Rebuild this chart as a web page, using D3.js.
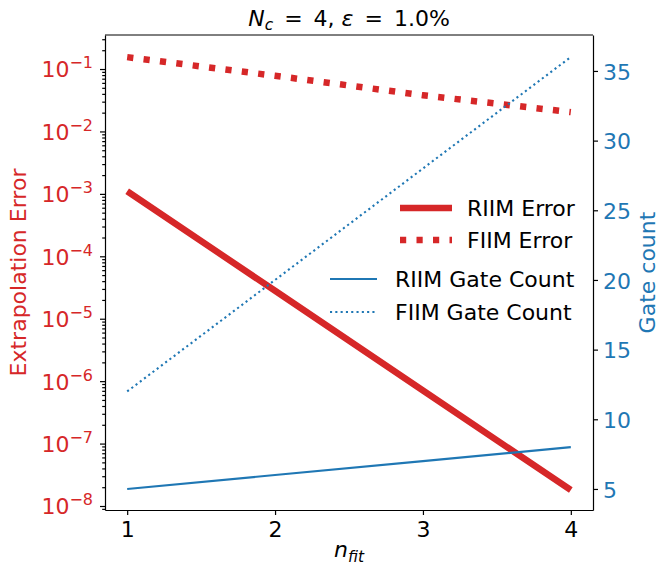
<!DOCTYPE html>
<html>
<head>
<meta charset="utf-8">
<script src="https://cdn.jsdelivr.net/npm/d3@7"></script>
<style>
  body { margin: 0; background: #fff; }
  svg text { font-family: "DejaVu Sans", sans-serif; }
</style>
</head>
<body>
<div id="chart"></div>
<script>
// values
const nFit = [1, 2, 3, 4];
const riimError = [1.1e-3, 2.8e-5, 7.1e-7, 1.8e-8];
const fiimError = [0.155, 0.078, 0.038, 0.0204];
const riimGates = [5, 6, 7, 8];
const fiimGates = [12, 20, 28, 36];

const xTicks = [1, 2, 3, 4];
const errTicks = [-8, -7, -6, -5, -4, -3, -2, -1];
const gateTicks = [5, 10, 15, 20, 25, 30, 35];

const red = "#d62728";
const blue = "#1f77b4";
const W = 659, H = 574;
const margin = {top: 35, right: 66, bottom: 64, left: 105};
const width = W - margin.left - margin.right;
const height = H - margin.top - margin.bottom;

const svg = d3.select("#chart").append("svg")
    .attr("width", W)
    .attr("height", H);

const g = svg.append("g")
    .attr("transform", `translate(${margin.left},${margin.top})`);

// scales (matplotlib style 5% padding)
const x = d3.scaleLinear().domain([0.85, 4.15]).range([0, width]);
const yErr = d3.scaleLog().domain([Math.pow(10, -8.064), Math.pow(10, -0.455)]).range([height, 0]);
const yGate = d3.scaleLinear().domain([3.49, 37.58]).range([height, 0]);

// minor ticks for the log axis
let minor = [];
for (let k = -9; k <= 0; k++) {
    for (let m = 2; m <= 9; m++) {
        const v = m * Math.pow(10, k);
        if (v >= yErr.domain()[0] && v <= yErr.domain()[1]) minor.push(v);
    }
}

/* red series on the left axis */
const lineErr = d3.line().x((d, i) => x(nFit[i])).y(d => yErr(d));

g.append("path")
    .datum(riimError)
    .attr("fill", "none")
    .attr("stroke", red)
    .attr("stroke-width", 6.5)
    .attr("d", lineErr);

g.append("path")
    .datum(fiimError)
    .attr("fill", "none")
    .attr("stroke", red)
    .attr("stroke-width", 6.5)
    .attr("stroke-dasharray", "6.2,10.3")
    .attr("d", lineErr);

function legend(parent, items, lineX0, lineX1, textX, rows) {
    items.forEach((it, i) => {
        parent.append("line")
            .attr("x1", lineX0).attr("x2", lineX1)
            .attr("y1", rows[i]).attr("y2", rows[i])
            .attr("stroke", it.color)
            .attr("stroke-width", it.w)
            .attr("stroke-dasharray", it.dash);
        parent.append("text")
            .attr("x", textX)
            .attr("y", rows[i])
            .attr("dy", "0.36em")
            .attr("font-size", 22)
            .attr("fill", "#000")
            .text(it.label);
    });
}

legend(svg, [
    {label: "RIIM Error", color: red, w: 6.5, dash: null},
    {label: "FIIM Error", color: red, w: 6.5, dash: "6.2,10.3"}
], 400, 452, 467, [208, 240]);

/* blue series on the right axis */
const lineGate = d3.line().x((d, i) => x(nFit[i])).y(d => yGate(d));

g.append("path")
    .datum(riimGates)
    .attr("fill", "none")
    .attr("stroke", blue)
    .attr("stroke-width", 2.1)
    .attr("d", lineGate);

g.append("path")
    .datum(fiimGates)
    .attr("fill", "none")
    .attr("stroke", blue)
    .attr("stroke-width", 2.1)
    .attr("stroke-dasharray", "2.1,3.2")
    .attr("d", lineGate);

legend(svg, [
    {label: "RIIM Gate Count", color: blue, w: 2.1, dash: null},
    {label: "FIIM Gate Count", color: blue, w: 2.1, dash: "2.1,3.2"}
], 330, 377, 395, [279, 312]);

/* axes */
// bottom
const xAxis = g.append("g")
    .attr("transform", `translate(0,${height})`)
    .call(d3.axisBottom(x).tickValues(xTicks).tickFormat(d3.format("d")).tickSize(5).tickSizeOuter(0).tickPadding(6));
xAxis.selectAll("text").attr("font-size", 22).attr("fill", "#000");

// left log axis, minor ticks first
g.append("g")
    .call(d3.axisLeft(yErr).tickValues(minor).tickFormat("").tickSize(2.8).tickSizeOuter(0))
    .call(a => a.select(".domain").remove());

const leftAxis = g.append("g")
    .call(d3.axisLeft(yErr).tickValues(errTicks.map(e => Math.pow(10, e)))
        .tickFormat(() => "").tickSize(5).tickSizeOuter(0).tickPadding(7));
leftAxis.selectAll(".tick text")
    .attr("font-size", 22)
    .attr("fill", red)
    .attr("dy", "0.36em")
    .each(function(d) {
        const t = d3.select(this);
        const e = Math.round(Math.log10(d));
        t.append("tspan").text("10");
        t.append("tspan").attr("font-size", 16).attr("dy", -9).text("\u2212" + Math.abs(e));
    });

// right axis
const rightAxis = g.append("g")
    .attr("transform", `translate(${width},0)`)
    .call(d3.axisRight(yGate).tickValues(gateTicks).tickSize(5).tickSizeOuter(0).tickPadding(5));
rightAxis.selectAll("text").attr("font-size", 22).attr("fill", blue).attr("dy", "0.38em");

// top spine
g.append("line")
    .attr("x1", 0).attr("x2", width)
    .attr("y1", 0).attr("y2", 0)
    .attr("stroke", "#000");

g.selectAll(".domain").attr("stroke-width", 1.2);
g.selectAll(".tick line").attr("stroke-width", 1.2);

/* labels */
svg.append("text")
    .attr("transform", `translate(26,${margin.top + height / 2}) rotate(-90)`)
    .attr("text-anchor", "middle")
    .attr("font-size", 22)
    .attr("fill", red)
    .text("Extrapolation Error");

svg.append("text")
    .attr("transform", `translate(655,${margin.top + height / 2}) rotate(-90)`)
    .attr("text-anchor", "middle")
    .attr("font-size", 22)
    .attr("fill", blue)
    .text("Gate count");

const xl = svg.append("text")
    .attr("x", margin.left + width / 2)
    .attr("y", 557)
    .attr("text-anchor", "middle")
    .attr("font-size", 22);
xl.append("tspan").attr("font-style", "italic").text("n");
xl.append("tspan").attr("font-style", "italic").attr("font-size", 15.4).attr("dy", 5).text("fit");

const title = svg.append("text")
    .attr("x", margin.left + width / 2)
    .attr("y", 26)
    .attr("text-anchor", "middle")
    .attr("font-size", 22);
title.append("tspan").attr("font-style", "italic").text("N");
title.append("tspan").attr("font-style", "italic").attr("font-size", 15.4).attr("dy", 4).text("c");
title.append("tspan").attr("dy", -4).text("\u2002=\u20024, ");
title.append("tspan").attr("font-style", "italic").text("\u03b5");
title.append("tspan").text("\u2002=\u20021.0%");
</script>
</body>
</html>
